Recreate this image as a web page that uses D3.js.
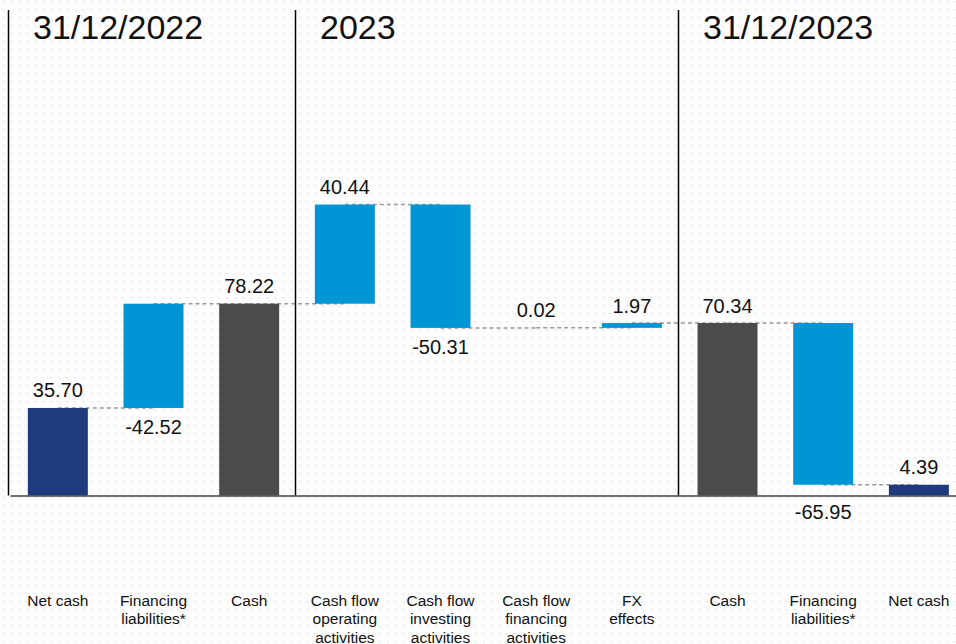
<!DOCTYPE html>
<html>
<head>
<meta charset="utf-8">
<script src="https://cdn.jsdelivr.net/npm/d3@7"></script>
<style>
  html, body { margin: 0; padding: 0; background: #ffffff; }
  svg { display: block; }
  text { font-family: "Liberation Sans", Arial, sans-serif; fill: #111; }
</style>
</head>
<body>
<svg id="chart" width="956" height="644"></svg>
<script>
// Net cash bridge, 31/12/2022 -> 31/12/2023 (values in millions)
const categories = [
  ["Net cash"],
  ["Financing", "liabilities*"],
  ["Cash"],
  ["Cash flow", "operating", "activities"],
  ["Cash flow", "investing", "activities"],
  ["Cash flow", "financing", "activities"],
  ["FX", "effects"],
  ["Cash"],
  ["Financing", "liabilities*"],
  ["Net cash"]
];
const values = [35.70, -42.52, 78.22, 40.44, -50.31, 0.02, 1.97, 70.34, -65.95, 4.39];
// total = bar from zero; step = adds the value; addBack = liabilities added back to reach cash
const kinds = ["total", "addBack", "total", "step", "step", "step", "step", "total", "step", "total"];
const barColors = ["#1f3a7d", "#0096d6", "#4b4b4b", "#0096d6", "#0096d6", "#0096d6", "#0096d6", "#4b4b4b", "#0096d6", "#1f3a7d"];
const sectionTitles = ["31/12/2022", "2023", "31/12/2023"];
const sectionStarts = [0, 3, 7];

const svg = d3.select("#chart");
const W = 956, H = 644;
const baseY = 495.5;

// faint dotted paper texture
const defs = svg.append("defs");
const pat = defs.append("pattern")
  .attr("id", "paper").attr("width", 8).attr("height", 8)
  .attr("patternUnits", "userSpaceOnUse");
pat.append("path")
  .attr("d", "M1,1.5H4.5M4,1.5V4.5")
  .attr("stroke", "#ececec").attr("stroke-width", 1).attr("fill", "none");
svg.append("rect").attr("width", W).attr("height", H).attr("fill", "#fff");
svg.append("rect").attr("width", W).attr("height", H).attr("fill", "url(#paper)");

// waterfall geometry
let running = 0;
const bars = values.map((v, i) => {
  let start, end;
  if (kinds[i] === "total") { start = 0; end = v; }
  else if (kinds[i] === "addBack") { start = running; end = running - v; }
  else { start = running; end = running + v; }
  running = end;
  return { i, v, lo: Math.min(start, end), hi: Math.max(start, end), level: end };
});

const x = d3.scaleBand()
  .domain(d3.range(values.length))
  .range([10, 966.7])
  .paddingInner(0.373)
  .paddingOuter(0.1865);

const y = d3.scaleLinear().domain([0, 200]).range([baseY, baseY - 490.4]);

const cx = i => x(i) + x.bandwidth() / 2;

// dashed connectors between consecutive bars
const conn = svg.append("g");
bars.slice(0, -1).forEach((b, i) => {
  conn.append("line")
    .attr("x1", cx(i)).attr("x2", cx(i + 1))
    .attr("y1", y(b.level)).attr("y2", y(b.level))
    .attr("stroke", "#9a9a9a").attr("stroke-width", 1.5)
    .attr("stroke-dasharray", "4,3");
});

// bars
svg.append("g").selectAll("rect").data(bars).join("rect")
  .attr("x", d => x(d.i))
  .attr("width", x.bandwidth())
  .attr("y", d => y(d.hi))
  .attr("height", d => y(d.lo) - y(d.hi))
  .attr("fill", d => barColors[d.i]);

// value labels: above for positive, below for negative (kept clear of the axis)
svg.append("g").selectAll("text").data(bars).join("text")
  .attr("x", d => cx(d.i))
  .attr("y", d => {
    if (d.v >= 0) return y(d.hi) - 10.5;
    const below = y(d.lo) + 26.5;
    return (below - 15 < baseY + 3 && below > baseY) ? baseY + 23 : below;
  })
  .attr("text-anchor", "middle")
  .attr("font-size", 20)
  .text(d => d.v.toFixed(2));

// section separators and titles
sectionStarts.forEach((s, k) => {
  const sx = Math.round(x(s) - 20) + 0.5;
  svg.append("line")
    .attr("x1", sx).attr("x2", sx)
    .attr("y1", 10).attr("y2", baseY)
    .attr("stroke", "#000").attr("stroke-width", 1.5);
  svg.append("text")
    .attr("x", sx + 24.5)
    .attr("y", 38.5)
    .attr("font-size", 34)
    .text(sectionTitles[k]);
});

// category axis
const axis = svg.append("g")
  .attr("transform", `translate(0,${baseY})`)
  .call(d3.axisBottom(x).tickSize(0).tickSizeOuter(0).tickFormat(""));
axis.select(".domain").attr("stroke", "#404040").attr("stroke-width", 1.5);
axis.selectAll(".tick").each(function(i) {
  const t = d3.select(this).select("text");
  t.attr("dy", null).attr("y", null)
    .attr("font-size", 15.5)
    .attr("fill", "#111")
    .attr("font-family", "Liberation Sans, Arial, sans-serif");
  categories[i].forEach((line, j) => {
    t.append("tspan").attr("x", 0).attr("y", 110.2 + j * 18.5).text(line);
  });
});
</script>
</body>
</html>
